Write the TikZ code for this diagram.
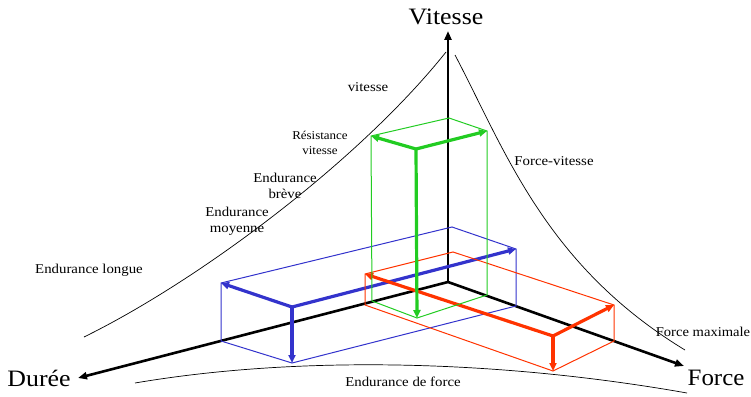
\documentclass[tikz,border=0pt]{standalone}
\usepackage{fontspec}
\setmainfont{Liberation Serif}
\usetikzlibrary{arrows.meta}
\definecolor{gr}{RGB}{34,204,34}
\definecolor{bl}{RGB}{51,51,204}
\definecolor{rd}{RGB}{255,51,0}
\newcommand{\hstretchtext}[2]{\scalebox{#1}[1]{\begin{tabular}{@{}c@{}}#2\end{tabular}}}
\tikzset{
  axis/.style={line width=2.6pt,-{Triangle[length=9pt,width=7pt]}},
  curve/.style={line width=0.7pt},
  edge/.style={line width=1pt},
  vec/.style={line width=3.2pt,-{Triangle[length=8pt,width=7pt]}},
  lab/.style={inner sep=0pt,font=\fontsize{13.5}{16.5}\selectfont},
  small/.style={inner sep=0pt,font=\fontsize{12}{14.5}\selectfont},
  big/.style={inner sep=0pt,font=\fontsize{23.5}{26}\selectfont}
}
\begin{document}
\begin{tikzpicture}[x=1pt,y=-1pt]
\useasboundingbox (0,0) rectangle (751,396);
% axes
\coordinate (O) at (448,282);
\coordinate (Vend) at (448,31);
\coordinate (Dend) at (78,378);
\coordinate (Fend) at (684,366);
\node[big] (Vl) at (446,19) {\hstretchtext{1.1}{Vitesse}};
\node[big] (Dl) at (39,381) {\hstretchtext{1.1}{Durée}};
\node[big] (Fl) at (716,380) {\hstretchtext{1.06}{Force}};
% curves
\coordinate (c1a) at (84,337); \coordinate (c1b) at (446,52);
\coordinate (c2a) at (455,55); \coordinate (c2b) at (685,350);
\coordinate (c3a) at (135,383); \coordinate (c3b) at (687,393);
\draw[curve] (c1a) .. controls (200,280) and (360,160) .. (c1b);
\draw[curve] (c2a) .. controls (505,150) and (545,265) .. (c2b);
\draw[curve] (c3a) .. controls (300,355) and (500,360) .. (c3b);
\draw[axis] (O) -- (Vend);
\draw[axis] (O) -- (Dend);
\draw[axis] (O) -- (Fend);
% labels
\node[lab] (l1) at (368,88) {\hstretchtext{1.1}{vitesse}};
\node[small] (l2) at (320,144) {\hstretchtext{1.08}{Résistance\\vitesse}};
\node[lab] (l3) at (285,187) {\hstretchtext{1.1}{Endurance\\brève}};
\node[lab] (l4) at (237,221) {\hstretchtext{1.1}{Endurance\\moyenne}};
\node[lab] (l5) at (89,270) {\hstretchtext{1.1}{Endurance longue}};
\node[lab] (l6) at (554,162) {\hstretchtext{1.1}{Force-vitesse}};
\node[lab] (l7) at (703,333) {\hstretchtext{1.08}{Force maximale}};
\node[lab] (l8) at (403,383) {\hstretchtext{1.1}{Endurance de force}};
% blue box
\coordinate (BTB) at (452,227); \coordinate (BTL) at (221,283);
\coordinate (BTR) at (516,249); \coordinate (BTF) at (292,307);
\coordinate (BBL) at (221,341); \coordinate (BBF) at (292,363);
\coordinate (BBR) at (516,306);
\draw[edge,bl] (BTL) -- (BTB) -- (BTR) -- (BBR) -- (BBF) -- (BBL) -- cycle;
\draw[vec,bl] (BTF) -- (BTL);
\draw[vec,bl] (BTF) -- (BTR);
\draw[vec,bl] (BTF) -- (BBF);
% red box
\coordinate (RTB) at (453,252); \coordinate (RTL) at (365,274);
\coordinate (RTR) at (614,305); \coordinate (RTF) at (553,336);
\coordinate (RBL) at (365,305); \coordinate (RBF) at (553,371);
\coordinate (RBR) at (614,341);
\draw[edge,rd] (RTL) -- (RTB) -- (RTR) -- (RBR) -- (RBF) -- (RBL) -- cycle;
\draw[vec,rd] (RTF) -- (RTL);
\draw[vec,rd] (RTF) -- (RTR);
\draw[vec,rd] (RTF) -- (RBF);
% green box
\coordinate (GTB) at (449,118); \coordinate (GTL) at (371,136);
\coordinate (GTR) at (487,131); \coordinate (GTF) at (416,149);
\coordinate (GBL) at (372,301); \coordinate (GBF) at (417,318);
\coordinate (GBR) at (487,295);
\draw[edge,gr] (GTL) -- (GTB) -- (GTR) -- (GBR) -- (GBF) -- (GBL) -- cycle;
\draw[vec,gr] (GTF) -- (GTL);
\draw[vec,gr] (GTF) -- (GTR);
\draw[vec,gr] (GTF) -- (GBF);
\end{tikzpicture}
\end{document}
